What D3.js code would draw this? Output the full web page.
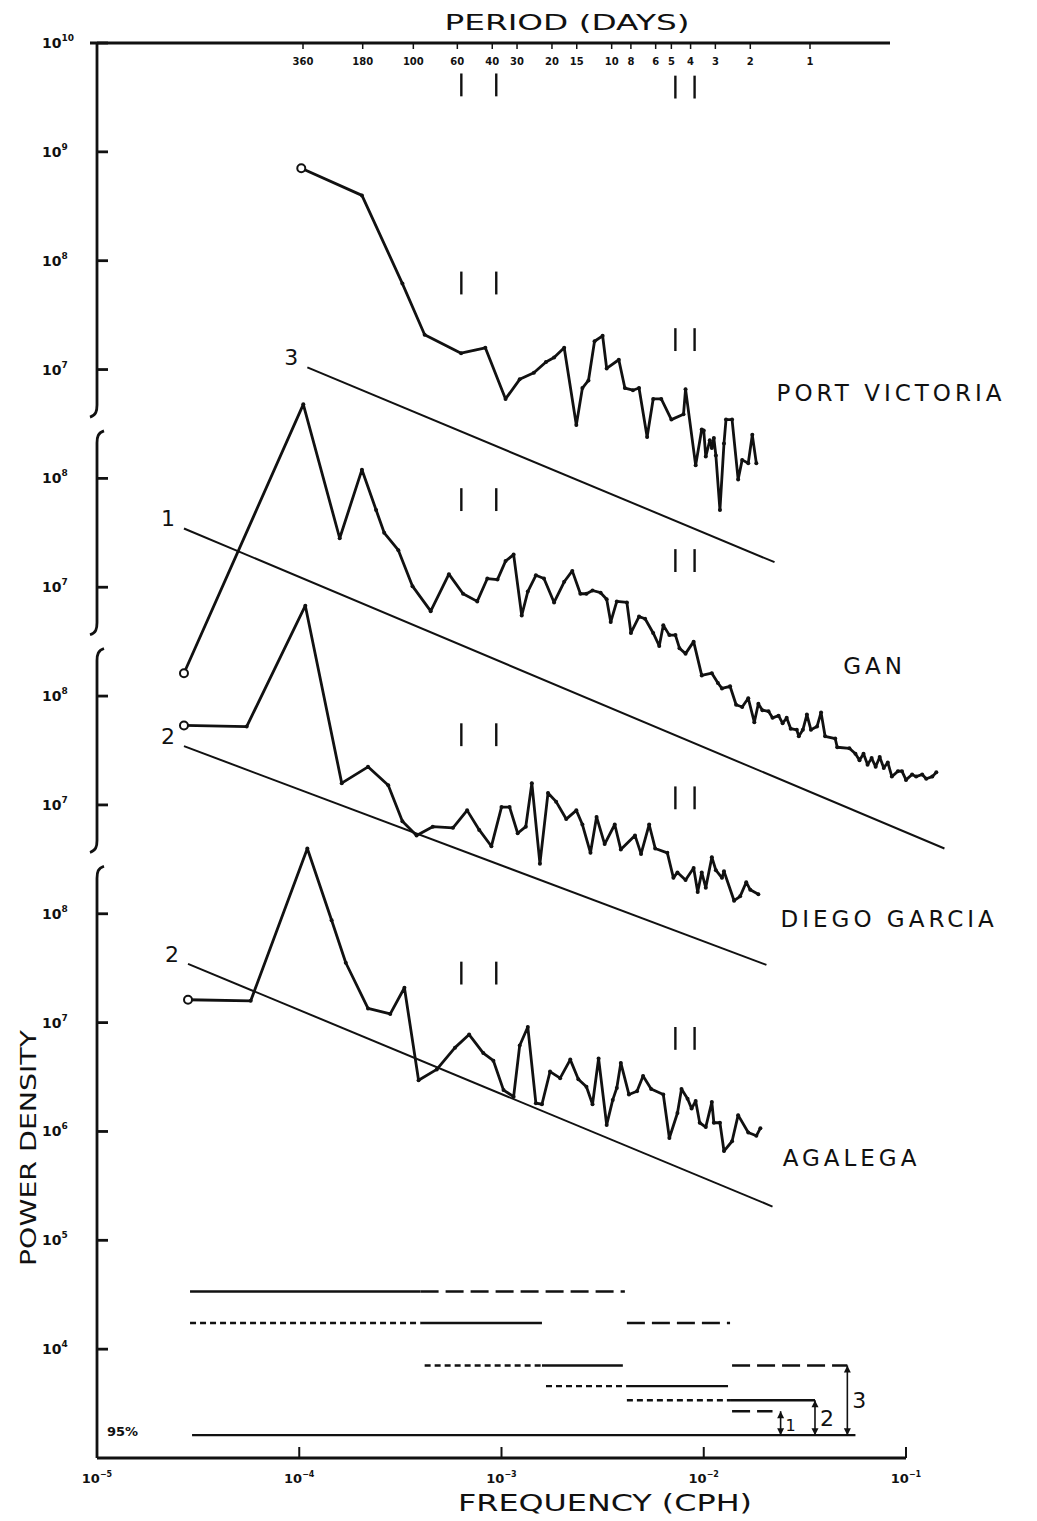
<!DOCTYPE html>
<html>
<head>
<meta charset="utf-8">
<script src="https://cdn.jsdelivr.net/npm/d3@7"></script>
<style>
  body { margin: 0; background: #fff; }
  text { font-family: "DejaVu Sans", sans-serif; fill: #111; }
</style>
</head>
<body>
<svg id="chart" width="1037" height="1521"></svg>
<script>
// ---- data (log10 frequency in cph, log10 power density) ----
const pvLogF = [-3.99,-3.69,-3.49,-3.38,-3.20,-3.08,-2.98,-2.91,-2.84,-2.78,-2.74,-2.69,-2.63,-2.60,-2.57,-2.54,-2.50,-2.48,-2.42,-2.39,-2.35,-2.32,-2.28,-2.25,-2.21,-2.16,-2.10,-2.09,-2.04,-2.01,-2.00,-1.99,-1.97,-1.96,-1.95,-1.94,-1.92,-1.90,-1.89,-1.86,-1.83,-1.81,-1.78,-1.76,-1.74];
const pvLogP = [8.85,8.60,7.79,7.32,7.15,7.20,6.73,6.91,6.97,7.07,7.11,7.20,6.49,6.83,6.90,7.26,7.31,7.01,7.09,6.83,6.81,6.83,6.38,6.73,6.73,6.54,6.59,6.82,6.12,6.45,6.44,6.20,6.35,6.28,6.37,6.21,5.71,6.32,6.54,6.54,5.99,6.17,6.14,6.40,6.14];

const ganLogF = [-4.57,-3.98,-3.80,-3.69,-3.62,-3.58,-3.51,-3.44,-3.35,-3.26,-3.19,-3.12,-3.07,-3.02,-2.98,-2.94,-2.90,-2.87,-2.83,-2.79,-2.74,-2.69,-2.65,-2.61,-2.58,-2.55,-2.51,-2.48,-2.46,-2.43,-2.38,-2.36,-2.32,-2.29,-2.25,-2.22,-2.20,-2.17,-2.14,-2.12,-2.09,-2.05,-2.01,-1.96,-1.93,-1.91,-1.87,-1.84,-1.81,-1.78,-1.75,-1.73,-1.71,-1.68,-1.66,-1.63,-1.61,-1.59,-1.57,-1.54,-1.53,-1.51,-1.49,-1.47,-1.44,-1.42,-1.40,-1.35,-1.34,-1.28,-1.25,-1.23,-1.21,-1.19,-1.17,-1.15,-1.13,-1.11,-1.09,-1.07,-1.04,-1.02,-1.00,-0.97,-0.95,-0.92,-0.90,-0.87,-0.85];
const ganLogP = [6.21,8.68,7.45,8.08,7.71,7.50,7.34,7.01,6.78,7.12,6.94,6.87,7.08,7.07,7.24,7.30,6.74,6.96,7.11,7.08,6.86,7.05,7.15,6.94,6.94,6.97,6.95,6.89,6.68,6.87,6.86,6.58,6.73,6.71,6.58,6.46,6.65,6.56,6.56,6.44,6.39,6.50,6.19,6.21,6.12,6.07,6.09,5.92,5.90,5.98,5.76,5.93,5.87,5.86,5.80,5.82,5.75,5.80,5.70,5.69,5.63,5.69,5.83,5.69,5.72,5.85,5.63,5.61,5.53,5.52,5.47,5.41,5.47,5.37,5.43,5.35,5.44,5.34,5.39,5.26,5.31,5.31,5.23,5.28,5.26,5.28,5.24,5.26,5.30];

const dgLogF = [-4.57,-4.26,-3.97,-3.79,-3.66,-3.56,-3.49,-3.42,-3.34,-3.24,-3.17,-3.11,-3.05,-3.00,-2.96,-2.92,-2.88,-2.85,-2.81,-2.77,-2.73,-2.68,-2.63,-2.60,-2.56,-2.53,-2.49,-2.44,-2.41,-2.34,-2.31,-2.27,-2.24,-2.18,-2.15,-2.13,-2.09,-2.05,-2.03,-2.01,-1.99,-1.96,-1.94,-1.91,-1.90,-1.85,-1.82,-1.79,-1.77,-1.73];
const dgLogP = [7.73,7.72,8.83,7.20,7.35,7.18,6.85,6.72,6.80,6.79,6.95,6.77,6.62,6.98,6.98,6.74,6.80,7.20,6.46,7.11,7.03,6.87,6.95,6.82,6.56,6.89,6.64,6.82,6.59,6.72,6.55,6.82,6.60,6.56,6.33,6.38,6.31,6.42,6.20,6.38,6.24,6.52,6.40,6.33,6.39,6.12,6.16,6.29,6.22,6.18];

const agLogF = [-4.55,-4.24,-3.96,-3.84,-3.77,-3.66,-3.55,-3.48,-3.41,-3.32,-3.23,-3.16,-3.09,-3.04,-2.99,-2.94,-2.91,-2.87,-2.83,-2.80,-2.76,-2.71,-2.66,-2.62,-2.58,-2.55,-2.52,-2.48,-2.45,-2.43,-2.41,-2.37,-2.33,-2.30,-2.26,-2.20,-2.17,-2.13,-2.11,-2.08,-2.06,-2.04,-2.02,-1.99,-1.96,-1.95,-1.92,-1.90,-1.86,-1.83,-1.78,-1.74,-1.72];
const agLogP = [7.21,7.20,8.60,7.94,7.55,7.13,7.08,7.32,6.47,6.57,6.77,6.89,6.72,6.65,6.38,6.32,6.79,6.96,6.26,6.25,6.55,6.49,6.66,6.48,6.41,6.25,6.67,6.06,6.29,6.40,6.63,6.34,6.37,6.51,6.39,6.34,5.94,6.17,6.39,6.30,6.21,6.28,6.08,6.04,6.27,6.08,6.08,5.82,5.91,6.15,5.99,5.96,6.03];

// reference slope lines [logF, logP] end points, with their labels
const pvRef = [[-3.96, 7.02], [-1.65, 5.23]];
const ganRef = [[-4.57, 7.54], [-0.81, 4.60]];
const dgRef = [[-4.57, 7.54], [-1.69, 5.53]];
const agRef = [[-4.55, 7.54], [-1.66, 5.31]];

// period axis (days) and marked periods
const periodTicks = [360, 180, 100, 60, 40, 30, 20, 15, 10, 8, 6, 5, 4, 3, 2, 1];
const markedLong = [60, 40];
const markedShort = [5, 4];

const freqTicks = [-5, -4, -3, -2, -1];

// each record is drawn shifted down by whole decades
const panels = [
  { name: "PORT VICTORIA", shift: 0, logF: pvLogF, logP: pvLogP, ref: pvRef, refLabel: "3",
    ticks: [10, 9, 8, 7], nameAt: [-1.64, 6.71], markA: 7.90, markB: 7.38, axis: [10, 6.6] },
  { name: "GAN", shift: -2, logF: ganLogF, logP: ganLogP, ref: ganRef, refLabel: "1",
    ticks: [8, 7], nameAt: [-1.31, 6.20], markA: 7.91, markB: 7.35, axis: [8.4, 6.6] },
  { name: "DIEGO GARCIA", shift: -4, logF: dgLogF, logP: dgLogP, ref: dgRef, refLabel: "2",
    ticks: [8, 7], nameAt: [-1.62, 5.88], markA: 7.75, markB: 7.17, axis: [8.4, 6.6] },
  { name: "AGALEGA", shift: -6, logF: agLogF, logP: agLogP, ref: agRef, refLabel: "2",
    ticks: [8, 7, 6, 5, 4], nameAt: [-1.61, 5.68], markA: 7.56, markB: 6.96, axis: [8.4, 3.0] }
];
const topMarks = { markA: 9.72, markB: 9.70 };

// 95% confidence bars, Agalega scale: [logF0, logF1, logP, style]
const ciSegments = [
  [-4.54, -3.40, 4.53, "solid"], [-3.40, -2.39, 4.53, "long"],
  [-4.54, -3.40, 4.24, "short"], [-3.40, -2.80, 4.24, "solid"], [-2.38, -1.87, 4.24, "long"],
  [-3.38, -2.80, 3.85, "short"], [-2.80, -2.40, 3.85, "solid"], [-1.86, -1.29, 3.85, "long"],
  [-2.78, -2.38, 3.66, "short"], [-2.38, -1.88, 3.66, "solid"],
  [-2.38, -1.87, 3.53, "short"], [-1.87, -1.45, 3.53, "solid"],
  [-1.86, -1.66, 3.43, "long"],
  [-4.53, -1.25, 3.21, "solid"]
];
const ciBase = 3.21;
const ciBrackets = [["1", -1.62, 3.43], ["2", -1.45, 3.53], ["3", -1.29, 3.85]];

// ---- scales ----
const svg = d3.select("#chart");
const x = d3.scaleLog().domain([1e-5, 1e-1]).range([97, 906]);
const y = d3.scaleLog().domain([1e-3, 1e10]).range([1458, 43]);
const xp = d3.scaleLog().domain([360, 1]).range([303, 810]);
const fx = lf => x(Math.pow(10, lf));
const fy = (lp, shift) => y(Math.pow(10, lp + shift));
const x0 = x(1e-5);

const ink = "#111";

// ---- left axis with breaks ----
const axisG = svg.append("g").attr("stroke", ink).attr("fill", "none").attr("stroke-width", 2.8);
panels.forEach((p, i) => {
  const yt = fy(p.axis[0], p.shift), yb = fy(p.axis[1], p.shift);
  let d = "";
  if (i === 0) d += `M${x0},${yt}`;
  else d += `M${x0 + 7},${yt - 4} C${x0 + 1},${yt - 2} ${x0},${yt + 2} ${x0},${yt + 8}`;
  if (i === panels.length - 1) d += ` L${x0},${yb}`;
  else d += ` L${x0},${yb - 8} C${x0},${yb - 2} ${x0 - 1},${yb + 2} ${x0 - 7},${yb + 4}`;
  axisG.append("path").attr("d", d);
  p.ticks.forEach(e => {
    const ty = fy(e, p.shift);
    axisG.append("line").attr("x1", x0).attr("x2", x0 + 11).attr("y1", ty).attr("y2", ty);
    const t = svg.append("text").attr("x", 42).attr("y", ty + 5)
      .attr("font-size", 14).attr("font-weight", "bold");
    t.append("tspan").text("10");
    t.append("tspan").attr("dy", -7).attr("font-size", 9).text(e);
  });
});

// ---- bottom axis ----
const yBottom = y(1e-3);
svg.append("line").attr("x1", x0).attr("x2", x(1e-1)).attr("y1", yBottom).attr("y2", yBottom)
  .attr("stroke", ink).attr("stroke-width", 2.8);
freqTicks.forEach(e => {
  const tx = x(Math.pow(10, e));
  svg.append("line").attr("x1", tx).attr("x2", tx).attr("y1", yBottom).attr("y2", yBottom - 11)
    .attr("stroke", ink).attr("stroke-width", 2);
  const t = svg.append("text").attr("x", tx).attr("y", yBottom + 25)
    .attr("text-anchor", "middle").attr("font-size", 13).attr("font-weight", "bold");
  t.append("tspan").text("10");
  t.append("tspan").attr("dy", -6).attr("font-size", 8).text("\u2212" + (-e));
});
svg.append("text").attr("x", 605).attr("y", 1511).attr("text-anchor", "middle")
  .attr("font-size", 23).attr("textLength", 294).attr("lengthAdjust", "spacingAndGlyphs")
  .text("FREQUENCY (CPH)");

// ---- top period axis ----
const yTop = y(1e10);
svg.append("line").attr("x1", x0 - 7).attr("x2", 890).attr("y1", yTop).attr("y2", yTop)
  .attr("stroke", ink).attr("stroke-width", 2.8);
periodTicks.forEach(d => {
  const tx = xp(d);
  svg.append("line").attr("x1", tx).attr("x2", tx).attr("y1", yTop).attr("y2", yTop + 6)
    .attr("stroke", ink).attr("stroke-width", 1.5);
  svg.append("text").attr("x", tx).attr("y", yTop + 22).attr("text-anchor", "middle")
    .attr("font-size", 10).attr("font-weight", "bold").text(d);
});
svg.append("text").attr("x", 567).attr("y", 30).attr("text-anchor", "middle")
  .attr("font-size", 22).attr("textLength", 245).attr("lengthAdjust", "spacingAndGlyphs")
  .text("PERIOD (DAYS)");

svg.append("text").attr("transform", "translate(36,1148) rotate(-90)")
  .attr("text-anchor", "middle").attr("font-size", 22)
  .attr("textLength", 236).attr("lengthAdjust", "spacingAndGlyphs")
  .text("POWER DENSITY");

// ---- period markers ----
function drawMarks(m, shift) {
  [[markedLong, m.markA], [markedShort, m.markB]].forEach(([periods, top]) => {
    periods.forEach(d => {
      const mx = xp(d) + 4;
      svg.append("line").attr("x1", mx).attr("x2", mx)
        .attr("y1", fy(top, shift)).attr("y2", fy(top - 0.21, shift))
        .attr("stroke", ink).attr("stroke-width", 2.4);
    });
  });
}
drawMarks(topMarks, 0);

// ---- spectra ----
const line = d3.line();
panels.forEach(p => {
  const pts = d3.zip(p.logF, p.logP).map(([f, v]) => [fx(f), fy(v, p.shift)]);
  const g = svg.append("g");
  g.append("path").attr("d", line(pts)).attr("fill", "none").attr("stroke", ink)
    .attr("stroke-width", 2.8).attr("stroke-linejoin", "round");
  g.selectAll("circle.v").data(pts.slice(1)).join("circle").attr("class", "v")
    .attr("cx", d => d[0]).attr("cy", d => d[1]).attr("r", 2).attr("fill", ink);
  g.append("circle").attr("cx", pts[0][0]).attr("cy", pts[0][1]).attr("r", 4)
    .attr("fill", "#fff").attr("stroke", ink).attr("stroke-width", 2);

  const r = p.ref.map(([f, v]) => [fx(f), fy(v, p.shift)]);
  g.append("path").attr("d", line(r)).attr("fill", "none").attr("stroke", ink).attr("stroke-width", 2);
  g.append("text").attr("x", r[0][0] - 16).attr("y", r[0][1] - 2).attr("text-anchor", "middle")
    .attr("font-size", 22).text(p.refLabel);

  g.append("text").attr("x", fx(p.nameAt[0])).attr("y", fy(p.nameAt[1], p.shift))
    .attr("font-size", 23).attr("letter-spacing", 4).text(p.name);

  drawMarks(p, p.shift);
});

// ---- 95% confidence bars ----
const agShift = panels[3].shift;
const dashes = { solid: null, long: "18,7", short: "6,4" };
ciSegments.forEach(([f0, f1, v, s]) => {
  svg.append("line").attr("x1", fx(f0)).attr("x2", fx(f1))
    .attr("y1", fy(v, agShift)).attr("y2", fy(v, agShift))
    .attr("stroke", ink).attr("stroke-width", 2.4)
    .attr("stroke-dasharray", dashes[s]);
});
ciBrackets.forEach(([lab, f, v]) => {
  const bx = fx(f), y1 = fy(v, agShift), y2 = fy(ciBase, agShift);
  svg.append("line").attr("x1", bx).attr("x2", bx).attr("y1", y1).attr("y2", y2)
    .attr("stroke", ink).attr("stroke-width", 1.6);
  [[y1, 1], [y2, -1]].forEach(([yy, dir]) => {
    svg.append("path").attr("d", `M${bx - 3.5},${yy + dir * 7} L${bx},${yy} L${bx + 3.5},${yy + dir * 7} Z`)
      .attr("fill", ink);
  });
  svg.append("text").attr("x", bx + 5).attr("y", (y1 + y2) / 2 + 8)
    .attr("font-size", lab === "1" ? 16 : 22).text(lab);
});
svg.append("text").attr("x", 107).attr("y", 1436).attr("font-size", 13).attr("font-weight", "bold").text("95%");
</script>
</body>
</html>
